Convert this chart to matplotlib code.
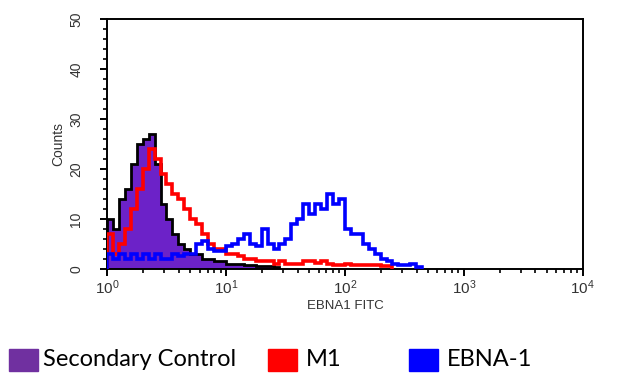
import numpy as np
import matplotlib.pyplot as plt
from matplotlib.ticker import MultipleLocator, LogLocator, NullFormatter
from matplotlib.patches import Rectangle

plt.rcParams['font.family'] = ['Liberation Sans', 'DejaVu Sans']
plt.rcParams['mathtext.fontset'] = 'custom'
plt.rcParams['mathtext.rm'] = 'Liberation Sans'

# channel counts, 20 log bins per decade starting at 10^0
secondary = [10, 8, 14, 16, 21, 25, 26, 27, 21, 13,
             10, 7, 5, 4, 3, 3, 2, 2, 1.5, 1.5,
             1, 1, 1, 0.8, 0.8, 0.6, 0.5, 0.5, 0.3]
m1 = [7, 3, 5, 8, 12, 16, 20, 24, 22, 19,
      17, 15, 14, 12, 10, 9, 7, 5, 4, 4,
      3, 3, 2.5, 2, 2, 1.5, 1.5, 1.5, 1, 1.5,
      1, 1, 1, 1.5, 1.5, 1.2, 1.5, 1, 0.8, 0.8,
      1, 0.8, 0.8, 0.7, 0.8, 0.7, 0.6, 0.5]
ebna1 = [3, 2, 3, 2, 3, 2, 3, 2, 3, 2,
         2, 3, 2.5, 3, 3, 5, 5.5, 4, 3.5, 3.5,
         4.5, 5, 6, 7, 5, 4.5, 8, 5, 4, 5,
         6, 9, 10, 13, 11, 13, 12, 15, 13, 14,
         8, 7, 7, 5, 4, 3, 2, 1.5, 1, 0.8,
         0.8, 1, 0.3]

purple = '#6c22c8'
red = '#ff0000'
blue = '#0000ff'


def edges(vals):
    return 10 ** (np.arange(len(vals) + 1) / 20)


fig = plt.figure(figsize=(6.24, 3.73), dpi=100)
ax = fig.add_axes([0.1715, 0.279, 0.7625, 0.67])

ax.stairs(secondary, edges(secondary), fill=True, color=purple, zorder=2)
ax.stairs(secondary, edges(secondary), color='black', lw=2.0, zorder=2.5)
ax.stairs(m1, edges(m1), color=red, lw=2.6, zorder=3)
ax.stairs(ebna1, edges(ebna1), color=blue, lw=2.6, zorder=4)

ax.set_xscale('log')
ax.set_xlim(1, 1e4)
ax.set_ylim(0, 50)
ax.yaxis.set_major_locator(MultipleLocator(10))
ax.yaxis.set_minor_locator(MultipleLocator(2))
ax.xaxis.set_major_locator(LogLocator(base=10))
ax.xaxis.set_minor_locator(LogLocator(base=10, subs=np.arange(2, 10)))
ax.xaxis.set_minor_formatter(NullFormatter())

for s in ax.spines.values():
    s.set_linewidth(1.4)
    s.set_color('black')
ax.tick_params(which='major', length=5, width=1.4, direction='out',
               labelcolor='#333333')
ax.tick_params(which='minor', length=3, width=1.2, direction='out')
ax.tick_params(axis='y', pad=12, labelsize=10)
ax.tick_params(axis='x', pad=2, labelsize=11)
for lbl in ax.get_yticklabels():
    lbl.set_rotation(90)
    lbl.set_va('center')

ax.set_ylabel('Counts', fontsize=10, color='#333333', labelpad=3)
ax.set_xlabel('EBNA1 FITC', fontsize=9.5, color='#333333', labelpad=2)

# legend row under the plot
items = [('Secondary Control', '#7030a0', 9, 43),
         ('M1', red, 268, 306),
         ('EBNA-1', blue, 409, 447)]
W, H = 624, 373
for name, col, bx, tx in items:
    fig.patches.append(Rectangle((bx / W, 1 - 371 / H), 29 / W, 22 / H,
                                 transform=fig.transFigure, color=col))
    fig.text(tx / W, 1 - 360 / H, name, fontsize=17, family='Lato',
             va='center', ha='left', color='black')

fig.savefig('out.png', dpi=100)
